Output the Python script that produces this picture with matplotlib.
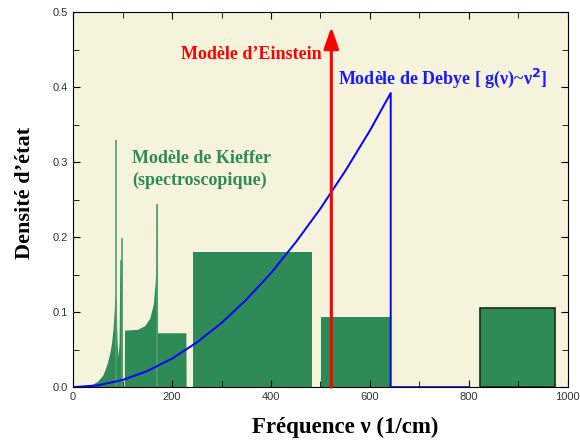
import numpy as np
import matplotlib.pyplot as plt

plt.rcParams['font.family'] = ['Liberation Sans', 'DejaVu Sans']

# Kieffer model: continuous part (acoustic + first optic band)
kief_nu = [20, 30, 40, 50, 60, 65, 70, 75, 78, 81, 83, 84, 85.5, 87, 89, 91, 93, 94.5, 97, 99, 99.5,
           103.5, 104, 130, 145, 155, 162, 166, 168, 169, 170, 170.5, 228, 228.5]
kief_g = [0.0, 0.002, 0.004, 0.008, 0.016, 0.024, 0.034, 0.048, 0.060, 0.080, 0.10, 0.12, 0.12, 0.11,
          0.06, 0.04, 0.06, 0.17, 0.17, 0.17, 0.0,
          0.0, 0.076, 0.077, 0.082, 0.092, 0.11, 0.14, 0.17, 0.244, 0.244, 0.0725, 0.0725, 0.0]
# sharp peaks
spike_nu = [86, 98, 169.5]
spike_g = [0.329, 0.199, 0.244]
# optic boxes: left, right, height
box_left = [242, 502]
box_right = [483, 642]
box_g = [0.18, 0.093]
# high frequency box
hf_left, hf_right, hf_g = 822, 974, 0.106

# Debye curve g ~ nu^2 with cutoff
debye_nu = [0, 50, 100, 150, 200, 250, 300, 350, 400, 450, 500, 550, 600, 642, 642, 800]
debye_g = [0, 0.0024, 0.0095, 0.0214, 0.038, 0.0595, 0.0856, 0.1165, 0.152, 0.193, 0.238,
           0.288, 0.342, 0.392, 0.0, 0.0]

# Einstein frequency
nu_E, g_E = 522, 0.48

green = '#2e8b57'
fig = plt.figure(figsize=(5.8, 4.45), dpi=100)
ax = fig.add_axes([0.126, 0.130, 0.853, 0.843])
ax.set_facecolor('#f5f3dc')

ax.fill_between(kief_nu, kief_g, 0, color=green, lw=0)
ax.vlines(spike_nu, 0, spike_g, color='#4f9e6f', lw=1.2)
for l, r, g in zip(box_left, box_right, box_g):
    ax.bar(l, g, width=r - l, align='edge', color=green, lw=0)
ax.bar(hf_left, hf_g, width=hf_right - hf_left, align='edge', color=green, edgecolor='#1a2a1a', lw=1.2)

ax.plot(debye_nu, debye_g, color='#0000ff', lw=1.4)

ax.annotate('', xy=(nu_E, g_E), xytext=(nu_E, 0),
            arrowprops=dict(arrowstyle='-|>,head_length=1.0,head_width=0.35', color='red', lw=2.2,
                            mutation_scale=13, shrinkA=0, shrinkB=0))

serif = 'Liberation Serif'
ax.text(nu_E - 19, 0.443, 'Modèle d\u2019Einstein', color='red', fontsize=13, fontweight='bold',
        family=serif, ha='right', va='center')
ax.text(535, 0.412, 'Modèle de Debye [ g(ν)~ν$^\\mathbf{2}$]', color='#1a1aff', fontsize=13,
        fontweight='bold', family=serif, ha='left', va='center')
ax.text(120, 0.305, 'Modèle de Kieffer', color=green, fontsize=13, fontweight='bold',
        family=serif, ha='left', va='center')
ax.text(120, 0.276, '(spectroscopique)', color=green, fontsize=13, fontweight='bold',
        family=serif, ha='left', va='center')

ax.set_xlim(0, 1000)
ax.set_ylim(0, 0.5)
ax.set_xticks(np.arange(0, 1001, 200))
ax.set_xticks(np.arange(0, 1001, 100), minor=True)
ax.set_yticks(np.arange(0, 0.51, 0.1))
ax.set_yticks(np.arange(0, 0.51, 0.05), minor=True)
ax.yaxis.set_major_formatter(plt.FormatStrFormatter('%.1f'))
ax.tick_params(which='both', direction='in', top=True, right=True, labelsize=8, labelcolor='#333333')
ax.tick_params(which='major', length=5)
ax.tick_params(which='minor', length=4)

ax.set_xlabel('Fréquence ν (1/cm)', family=serif, fontweight='bold', fontsize=16.5)
ax.set_ylabel('Densité d\u2019état', family=serif, fontweight='bold', fontsize=16)
ax.xaxis.set_label_coords(0.55, -0.08)
ax.yaxis.set_label_coords(-0.077, 0.519)

fig.savefig('out.png')
